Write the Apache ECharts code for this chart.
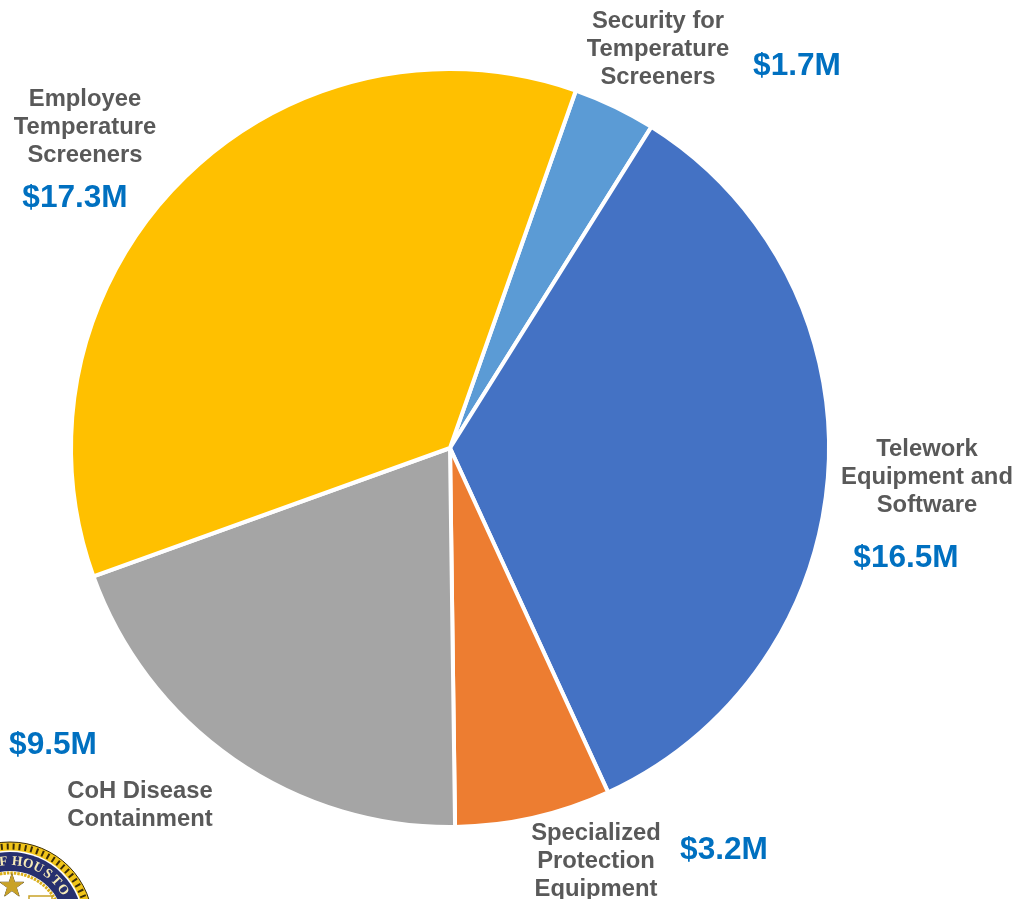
<!DOCTYPE html>
<html>
<head>
<meta charset="utf-8">
<style>html,body{margin:0;padding:0;background:#fff}#main{width:1016px;height:899px}</style>
<script src="https://cdn.jsdelivr.net/npm/echarts@6/dist/echarts.min.js"></script>
</head>
<body>
<div id="main"></div>
<script>
// clockwise from the top of the pie, starting at the security slice
var categories = ['Security for\nTemperature\nScreeners', 'Telework\nEquipment and\nSoftware', 'Specialized\nProtection\nEquipment', 'CoH Disease\nContainment', 'Employee\nTemperature\nScreeners'];
var amounts = [1.7, 16.5, 3.2, 9.5, 17.3];
var sliceColors = ['#5B9BD5', '#4472C4', '#ED7D31', '#A5A5A5', '#FFC000'];
var sealLetters = ['F', 'H', 'O', 'U', 'S', 'T', 'O'];

// where the text sits on the page, same order as categories
var namePos = [[658, 7], [927, 435], [596, 819], [140, 777], [85, 85]];
var valuePos = [[797, 50], [906, 542], [724, 834], [53, 729], [75, 182]];

var gold = '#F0C419', navy = '#27306F';
var sealX = 10, sealY = 925;

var graphics = [];
categories.forEach(function (name, i) {
  graphics.push({
    type: 'text', x: namePos[i][0], y: namePos[i][1],
    style: {
      text: name, textAlign: 'center', fill: '#595959',
      font: 'bold 23.8px "Liberation Sans", Arial, sans-serif', lineHeight: 28
    }
  });
  graphics.push({
    type: 'text', x: valuePos[i][0], y: valuePos[i][1],
    style: {
      text: '$' + amounts[i].toFixed(1) + 'M', textAlign: 'center', fill: '#0070C0',
      font: 'bold 31.6px "Liberation Sans", Arial, sans-serif'
    }
  });
});

// city seal in the bottom left corner, mostly cut off by the page edge
graphics.push({ type: 'circle', shape: { cx: sealX, cy: sealY, r: 83 }, style: { fill: gold, stroke: '#3a2c08', lineWidth: 1 } });
graphics.push({ type: 'circle', shape: { cx: sealX, cy: sealY, r: 78.5 }, style: { fill: 'none', stroke: '#3a2c08', lineWidth: 6, lineDash: [2, 4] } });
graphics.push({ type: 'circle', shape: { cx: sealX, cy: sealY, r: 74.5 }, style: { fill: '#fff' } });
graphics.push({ type: 'circle', shape: { cx: sealX, cy: sealY, r: 73 }, style: { fill: navy } });
graphics.push({ type: 'circle', shape: { cx: sealX, cy: sealY, r: 54 }, style: { fill: '#fff' } });
graphics.push({ type: 'circle', shape: { cx: sealX, cy: sealY, r: 52 }, style: { fill: '#fff', stroke: '#D9AE1A', lineWidth: 3, lineDash: [2.5, 1] } });
sealLetters.forEach(function (ch, i) {
  var deg = i === 0 ? -6 : 6.4 + (i - 1) * 10;
  var a = deg * Math.PI / 180;
  graphics.push({
    type: 'text', x: sealX + 63.5 * Math.sin(a), y: sealY - 63.5 * Math.cos(a), rotation: -a,
    style: { text: ch, fill: '#F6EBB8', font: 'bold 13.5px "Liberation Serif", serif', textAlign: 'center', textVerticalAlign: 'middle' }
  });
});
graphics.push({
  type: 'text', x: 12, y: 888,
  style: { text: '★', fill: '#C9A227', stroke: '#4a3a10', lineWidth: 0.7, font: '31px "DejaVu Sans"', textAlign: 'center', textVerticalAlign: 'middle' }
});
graphics.push({ type: 'rect', shape: { x: 29, y: 896, width: 23, height: 8 }, style: { fill: '#fff', stroke: '#C9A227', lineWidth: 1.5 } });

var option = {
  backgroundColor: '#fff',
  animation: false,
  color: sliceColors,
  graphic: graphics,
  series: [{
    type: 'pie',
    center: [450, 448],
    radius: [0, 379],
    startAngle: 70.6,
    clockwise: true,
    label: { show: false },
    labelLine: { show: false },
    itemStyle: { borderColor: '#fff', borderWidth: 4 },
    data: amounts.map(function (v, i) { return { value: v, name: categories[i] }; })
  }]
};
var myChart = echarts.init(document.getElementById('main'));
myChart.setOption(option);
</script>
</body>
</html>
